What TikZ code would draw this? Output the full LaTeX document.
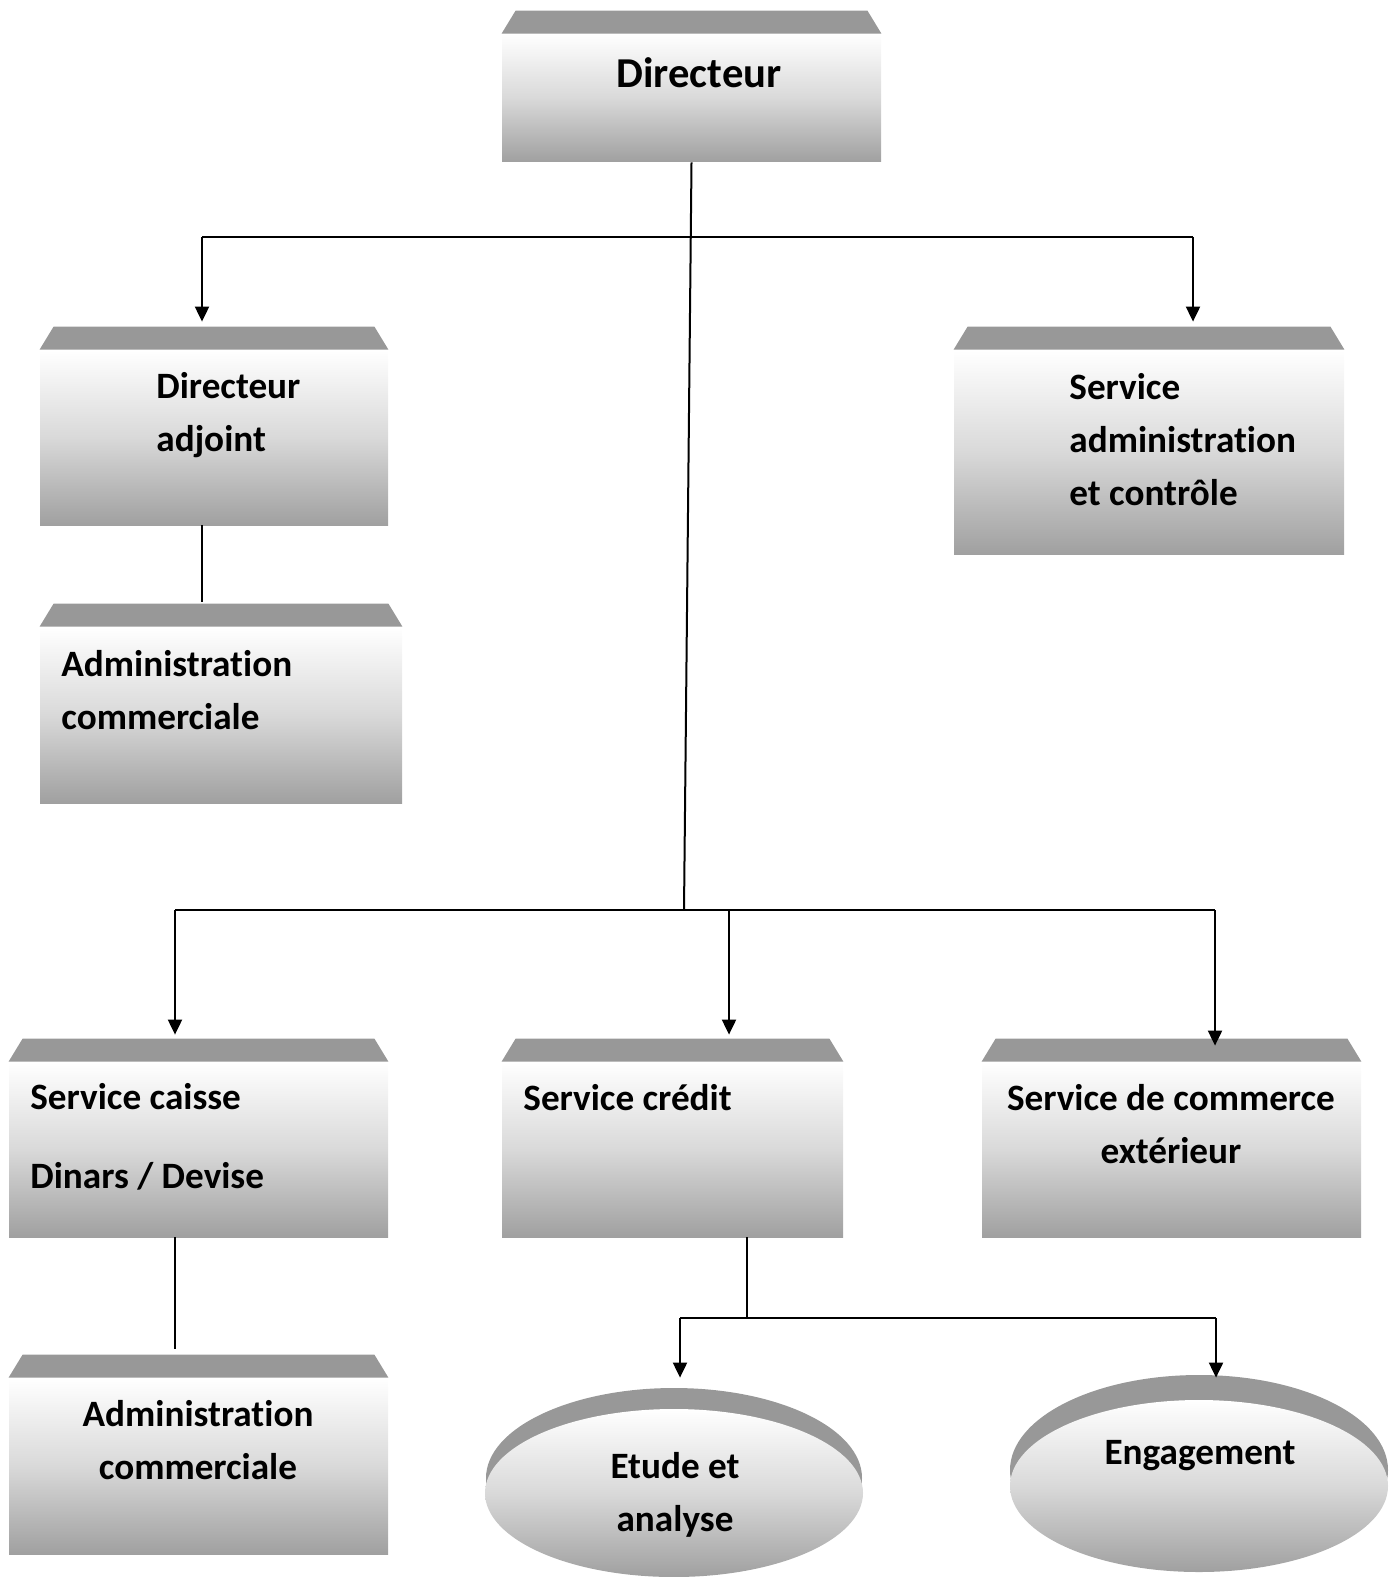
\documentclass[tikz,border=0pt]{standalone}
\usepackage{fontspec}
\setmainfont{Carlito}[Ligatures=NoCommon]
\usetikzlibrary{arrows.meta, calc, shapes.geometric}
\definecolor{bargray}{RGB}{152,152,152}
\definecolor{bodygray}{RGB}{160,160,160}
\tikzset{link/.style={line width=1pt}}
\tikzset{next/.style={-{Triangle[width=7pt,length=7.5pt]}}}
\tikzset{unit/.style={rectangle, inner sep=0pt, minimum height=87.5pt, top color=white, bottom color=bodygray, middle color=white!60!bodygray}}
\tikzset{disc/.style={ellipse, inner sep=0pt, top color=white, bottom color=bodygray, middle color=white!60!bodygray}}
\tikzset{txt/.style={inner sep=0pt, font=\bfseries\fontsize{18.6}{26.5}\selectfont}}
\newcommand{\topbar}[1]{\fill[bargray] (#1.north west) -- ([xshift=7pt,yshift=11.5pt]#1.north west) -- ([xshift=-7pt,yshift=11.5pt]#1.north east) -- (#1.north east) -- cycle;}

\begin{document}
\begin{tikzpicture}[x=0.5pt, y=-0.5pt]
  \useasboundingbox (0,0) rectangle (1397,1577);

  % --- boxes ---
  \node[unit, minimum width=189.5pt, minimum height=64pt] (dir) at (691.5,98) {};
  \node[unit, minimum width=174pt] (adj) at (214,437.5) {};
  \node[unit, minimum width=195pt, minimum height=102pt] (sac) at (1149,452) {};
  \node[unit, minimum width=181pt, minimum height=88pt] (acm) at (221,715) {};
  \node[unit, minimum width=189.5pt] (caisse) at (198.5,1149.5) {};
  \node[unit, minimum width=170.5pt] (credit) at (672.5,1149.5) {};
  \node[unit, minimum width=189.5pt] (comext) at (1171.5,1149.5) {};
  \node[unit, minimum width=189.5pt, minimum height=88pt] (acmb) at (198.5,1466) {};
  \foreach \b in {dir,adj,sac,acm,caisse,credit,comext,acmb} {\topbar{\b}}

  % --- discs ---
  \fill[bargray] (674,1478) ellipse (188 and 90);
  \node[disc, minimum width=189pt, minimum height=84pt] (etude) at (674,1493) {};
  \fill[bargray] (1199,1470) ellipse (189 and 95);
  \node[disc, minimum width=189pt, minimum height=86pt] (engag) at (1199,1486) {};

  % --- texts ---
  \node[txt, font=\bfseries\fontsize{21.3}{26}\selectfont] (tdir) at (699,73) {Directeur};
  \node[txt, anchor=west, align=left] (tadj) at (156,415) {Directeur\\adjoint};
  \node[txt, anchor=west, align=left] (tsac) at (1069,440) {Service\\administration\\et contrôle};
  \node[txt, anchor=west, align=left] (tacm) at (61,690) {Administration\\commerciale};
  \node[txt, anchor=west, align=left] (tcaisse) at (30,1137) {Service caisse\\[13pt]Dinars / Devise};
  \node[txt, anchor=west] (tcredit) at (523,1098) {Service crédit};
  \node[txt, align=center] (tcomext) at (1171,1124) {Service de commerce\\extérieur};
  \node[txt, align=center] (tacmb) at (198,1440) {Administration\\commerciale};
  \node[txt, align=center] (tetude) at (675,1495) {Etude et\\analyse};
  \node[txt] (tengag) at (1200,1456) {Engagement};

  % --- links top ---
  \coordinate (jlow) at (684,910);
  \draw[link] (dir.south) -- (jlow);
  \coordinate (jadj) at (202,237);
  \coordinate (jsac) at (1193,237);
  \draw[link] (jadj) -- (jsac);
  \draw[link, next] (jadj) -- ($(jadj |- adj.north)+(0,-28)$);
  \draw[link, next] (jsac) -- ($(jsac |- sac.north)+(0,-28)$);
  \draw[link] (jadj |- adj.south) -- ($(jadj |- acm.north)+(0,-25)$);

  % --- links bottom ---
  \coordinate (jcaisse) at (175,910);
  \coordinate (jcredit) at (729,910);
  \coordinate (jcomext) at (1215,910);
  \draw[link] (jcaisse) -- (jcomext);
  \draw[link, next] (jcaisse) -- ($(jcaisse |- caisse.north)+(0,-27)$);
  \draw[link, next] (jcredit) -- ($(jcredit |- credit.north)+(0,-27)$);
  \draw[link, next] (jcomext) -- ($(jcomext |- comext.north)+(0,-16)$);
  \draw[link] (jcaisse |- caisse.south) -- ($(jcaisse |- acmb.north)+(0,-29)$);

  % --- credit split ---
  \coordinate (jsplit) at (747,1318);
  \coordinate (jetude) at (680,1318);
  \coordinate (jengag) at (1216,1318);
  \draw[link] (jsplit |- credit.south) -- (jsplit);
  \draw[link] (jetude) -- (jengag);
  \draw[link, next] (jetude) -- ($(jetude |- etude.north)+(0,-31)$);
  \draw[link, next] (jengag) -- ($(jengag |- engag.north)+(0,-22)$);
\end{tikzpicture}
\end{document}
